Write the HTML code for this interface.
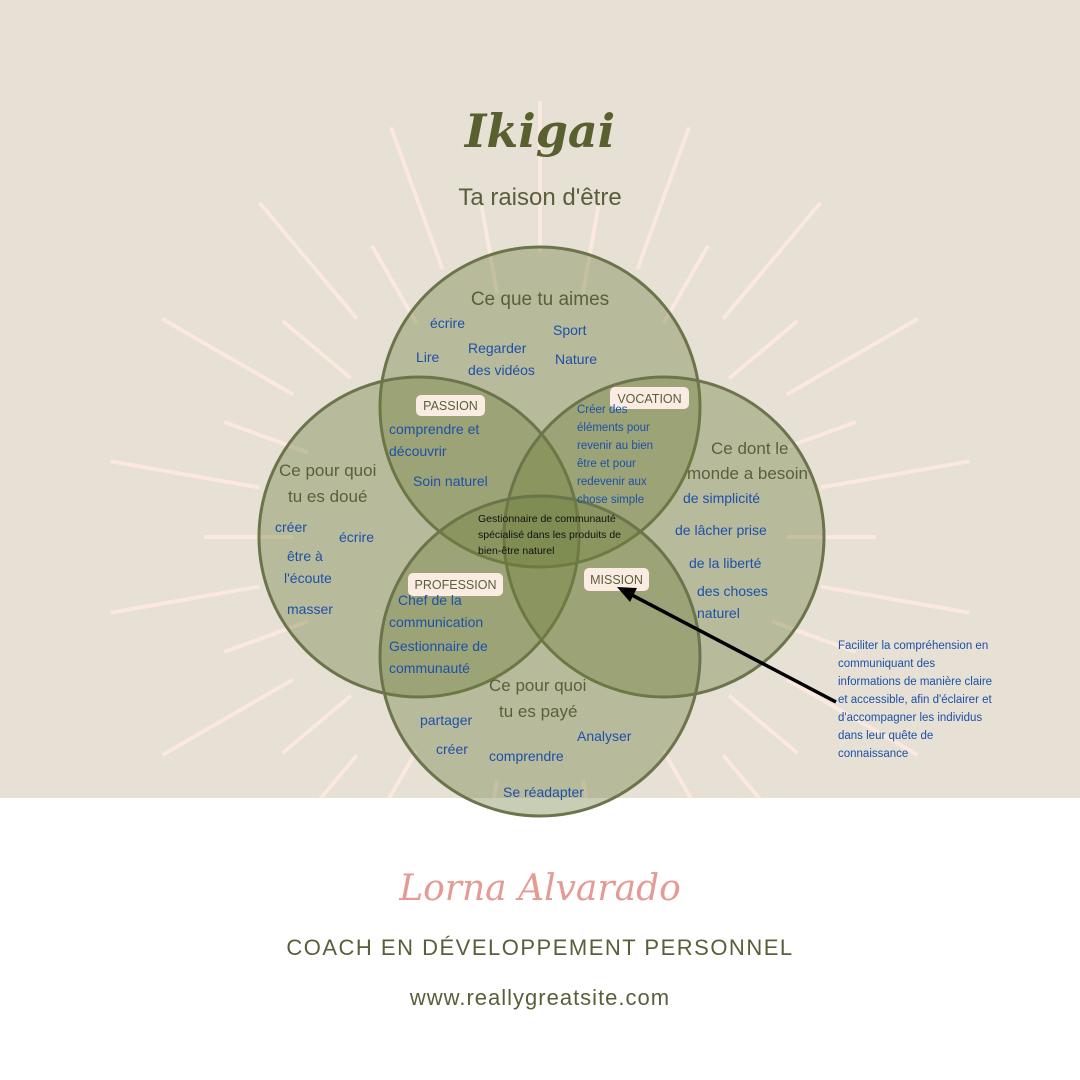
<!DOCTYPE html>
<html><head><meta charset="utf-8"><style>
html,body{margin:0;padding:0;width:1080px;height:1080px;overflow:hidden;background:#fff}
svg{display:block}
text{font-family:"Liberation Sans","DejaVu Sans",sans-serif}
.b{fill:#1d50a8;font-size:14px}
.g{fill:#5a5f3a;font-size:17px}
.v{fill:#1d50a8;font-size:11.5px}
.k{fill:#111;font-size:10.5px}
.lb{fill:#5a5f3a;font-size:12.5px}
</style></head><body>
<svg width="1080" height="1080" viewBox="0 0 1080 1080">
<rect x="0" y="0" width="1080" height="798" fill="#e6e0d5"/>
<g id="rays" stroke="#fbe8df" stroke-width="4" stroke-linecap="butt"></g>
<rect x="0" y="798" width="1080" height="282" fill="#ffffff"/>
<g fill="#6f7d3c" fill-opacity="0.38" stroke="#6b744a" stroke-width="3">
<circle cx="540" cy="407" r="160"/>
<circle cx="419" cy="537" r="160"/>
<circle cx="664" cy="537" r="160"/>
<circle cx="540" cy="656" r="160"/>
</g>
<text x="540" y="147" text-anchor="middle" style="font-family:'DejaVu Serif',serif;font-style:italic;font-weight:bold;font-size:46px" fill="#59602f">Ikigai</text>
<text x="540" y="205" text-anchor="middle" style="font-size:24px" fill="#5a5f3a">Ta raison d'être</text>

<text x="540" y="305" text-anchor="middle" class="g" style="font-size:19px">Ce que tu aimes</text>
<text x="430" y="328" class="b">écrire</text>
<text x="553" y="335" class="b">Sport</text>
<text x="416" y="362" class="b">Lire</text>
<text x="468" y="353" class="b">Regarder</text>
<text x="468" y="375" class="b">des vidéos</text>
<text x="555" y="364" class="b">Nature</text>

<rect x="416" y="395" width="69" height="21" rx="5" fill="#fbece3"/>
<text x="450.5" y="410" text-anchor="middle" class="lb">PASSION</text>
<text x="389" y="434" class="b">comprendre et</text>
<text x="389" y="456" class="b">découvrir</text>
<text x="413" y="486" class="b">Soin naturel</text>

<rect x="610" y="387" width="79" height="22" rx="5" fill="#fbece3"/>
<text x="649.5" y="403" text-anchor="middle" class="lb">VOCATION</text>
<text x="577" y="413" class="v">Créer des</text>
<text x="577" y="431" class="v">éléments pour</text>
<text x="577" y="449" class="v">revenir au bien</text>
<text x="577" y="467" class="v">être et pour</text>
<text x="577" y="485" class="v">redevenir aux</text>
<text x="577" y="503" class="v">chose simple</text>

<text x="711" y="454" class="g">Ce dont le</text>
<text x="687" y="479" class="g">monde a besoin</text>
<text x="683" y="503" class="b">de simplicité</text>
<text x="675" y="535" class="b">de lâcher prise</text>
<text x="689" y="568" class="b">de la liberté</text>
<text x="697" y="596" class="b">des choses</text>
<text x="697" y="618" class="b">naturel</text>

<text x="279" y="476" class="g">Ce pour quoi</text>
<text x="288" y="502" class="g">tu es doué</text>
<text x="275" y="532" class="b">créer</text>
<text x="339" y="542" class="b">écrire</text>
<text x="287" y="561" class="b">être à</text>
<text x="284" y="583" class="b">l'écoute</text>
<text x="287" y="614" class="b">masser</text>

<text x="478" y="522" class="k">Gestionnaire de communauté</text>
<text x="478" y="538" class="k">spécialisé dans les produits de</text>
<text x="478" y="554" class="k">bien-être  naturel</text>

<rect x="408" y="573" width="95" height="23" rx="5" fill="#fbece3"/>
<text x="455.5" y="589" text-anchor="middle" class="lb">PROFESSION</text>
<rect x="584" y="568" width="65" height="23" rx="5" fill="#fbece3"/>
<text x="616.5" y="584" text-anchor="middle" class="lb">MISSION</text>

<text x="398" y="605" class="b">Chef de la</text>
<text x="389" y="627" class="b">communication</text>
<text x="389" y="651" class="b">Gestionnaire de</text>
<text x="389" y="673" class="b">communauté</text>

<text x="489" y="691" class="g">Ce pour quoi</text>
<text x="499" y="717" class="g">tu es payé</text>
<text x="420" y="725" class="b">partager</text>
<text x="436" y="754" class="b">créer</text>
<text x="489" y="761" class="b">comprendre</text>
<text x="577" y="741" class="b">Analyser</text>
<text x="503" y="797" class="b">Se réadapter</text>

<line x1="836" y1="702" x2="630" y2="594" stroke="#000" stroke-width="3.5"/>
<polygon points="617,587 637,588 630,602" fill="#000"/>
<text x="838" y="649" class="v">Faciliter la compréhension en</text>
<text x="838" y="667" class="v">communiquant des</text>
<text x="838" y="685" class="v">informations de manière claire</text>
<text x="838" y="703" class="v">et accessible, afin d'éclairer et</text>
<text x="838" y="721" class="v">d'accompagner les individus</text>
<text x="838" y="739" class="v">dans leur quête de</text>
<text x="838" y="757" class="v">connaissance</text>

<text x="540" y="900" text-anchor="middle" style="font-family:'DejaVu Serif',serif;font-style:italic;font-size:36px" fill="#e59a93">Lorna Alvarado</text>
<text x="540" y="955" text-anchor="middle" style="font-size:22px;letter-spacing:1.5px" fill="#5a5f3a">COACH EN DÉVELOPPEMENT PERSONNEL</text>
<text x="540" y="1005" text-anchor="middle" style="font-size:22px;letter-spacing:1px" fill="#5a5f3a">www.reallygreatsite.com</text>
</svg>
<script>
var g=document.getElementById('rays'),s='';
for(var a=0;a<360;a+=10){var long=(a%20==0);var r1=long?285:247,r2=long?436:336;var t=a*Math.PI/180;
var x1=540+r1*Math.sin(t),y1=537-r1*Math.cos(t),x2=540+r2*Math.sin(t),y2=537-r2*Math.cos(t);
s+='<line x1="'+x1+'" y1="'+y1+'" x2="'+x2+'" y2="'+y2+'"/>';}
g.innerHTML=s;
</script>
</body></html>
